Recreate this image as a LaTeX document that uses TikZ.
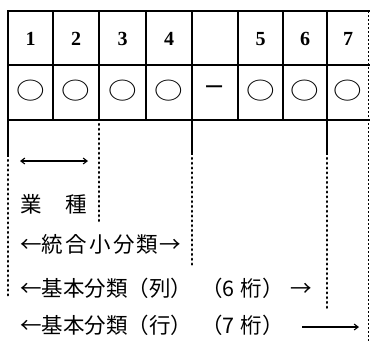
\documentclass[tikz,border=0pt]{standalone}
\usepackage{fontspec}
\setmainfont{Liberation Serif}
\newfontfamily\jp{Noto Sans CJK JP}
\usetikzlibrary{arrows.meta}
\begin{document}
\begin{tikzpicture}[x=1pt,y=-1pt,
  thickline/.style={line width=2.2pt},
  tblline/.style={line width=1.6pt},
  dotline/.style={line width=2.4pt, line cap=round, dash pattern=on 0.9pt off 3.9pt},
  thindash/.style={line width=0.7pt, dash pattern=on 2pt off 2pt},
  digit/.style={font=\fontsize{20}{20}\selectfont\bfseries, inner sep=0pt},
  cellmark/.style={font=\jp\fontsize{26}{26}\selectfont, inner sep=0pt},
  jtext/.style={font=\jp\fontsize{21.5}{24}\selectfont, inner sep=0pt, anchor=west},
  jchar/.style={font=\jp\fontsize{21.5}{24}\selectfont, inner sep=0pt},
  arr/.style={line width=1.1pt, -{Straight Barb[length=4pt,width=6pt]}},
  dblarr/.style={line width=1.1pt, {Straight Barb[length=4pt,width=6pt]}-{Straight Barb[length=4pt,width=6pt]}}
]
\useasboundingbox (0,0) rectangle (370,341);
% horizontal lines
\draw[thickline] (8,11) -- (370,11);
\draw[tblline] (8,65) -- (370,65);
\draw[tblline] (8,120) -- (370,120);
% vertical solid lines in table
\draw[tblline] (8,10) -- (8,157);
\draw[tblline] (53,11) -- (53,120);
\draw[tblline] (99,11) -- (99,120);
\draw[tblline] (146,11) -- (146,120);
\draw[tblline] (192,11) -- (192,155);
\draw[tblline] (238,11) -- (238,120);
\draw[tblline] (283,11) -- (283,120);
\draw[tblline] (327,11) -- (327,155);
% dotted continuations
\draw[dotline] (8,160) -- (8,296);
\draw[dotline] (99,124) -- (99,222);
\draw[dotline] (192,158) -- (192,267);
\draw[dotline] (327,158) -- (327,310);
\draw[thindash] (368,11) -- (368,341);
% header digits
\node[digit] (d1) at (30.5,39) {1};
\node[digit] (d2) at (76,39) {2};
\node[digit] (d3) at (122.5,39) {3};
\node[digit] (d4) at (169,39) {4};
\node[digit] (d5) at (260.5,39) {5};
\node[digit] (d6) at (305,39) {6};
\node[digit] (d7) at (348,39) {7};
% second row marks
\node[cellmark] (c1) at (31,91) {\scalebox{1.1}[0.9]{○}};
\node[cellmark] (c2) at (76,91) {\scalebox{1.1}[0.9]{○}};
\node[cellmark] (c3) at (122.5,91) {\scalebox{1.1}[0.9]{○}};
\node[cellmark] (c4) at (169,91) {\scalebox{1.1}[0.9]{○}};
\node[cellmark] (dash) at (215,92) {\scalebox{0.85}[1.1]{－}};
\node[cellmark] (c5) at (260.5,91) {\scalebox{1.1}[0.9]{○}};
\node[cellmark] (c6) at (305,91) {\scalebox{1.1}[0.9]{○}};
\node[cellmark] (c7) at (348,91) {\scalebox{1.1}[0.9]{○}};
% industry arrow and label
\coordinate (ga) at (20,161);
\coordinate (gb) at (88,161);
\draw[dblarr] (ga) -- (gb);
\node[jchar] (gyo) at (31,204) {業};
\node[jchar] (shu) at (76,204) {種};
% range labels
\node[jtext] (t1) at (20,244) {←統\kern2.3pt 合\kern2.3pt 小\kern2.3pt 分\kern2.3pt 類\kern1pt →};
\node[jtext] (t2) at (20,288) {←基本分類（列）\kern9pt（6\kern6pt 桁）\kern7pt →};
\node[jtext] (t3) at (20,325) {←基本分類（行）\kern9pt（7\kern6pt 桁）};
\coordinate (ea) at (302,327);
\coordinate (eb) at (359,327);
\draw[arr] (ea) -- (eb);
\end{tikzpicture}
\end{document}
